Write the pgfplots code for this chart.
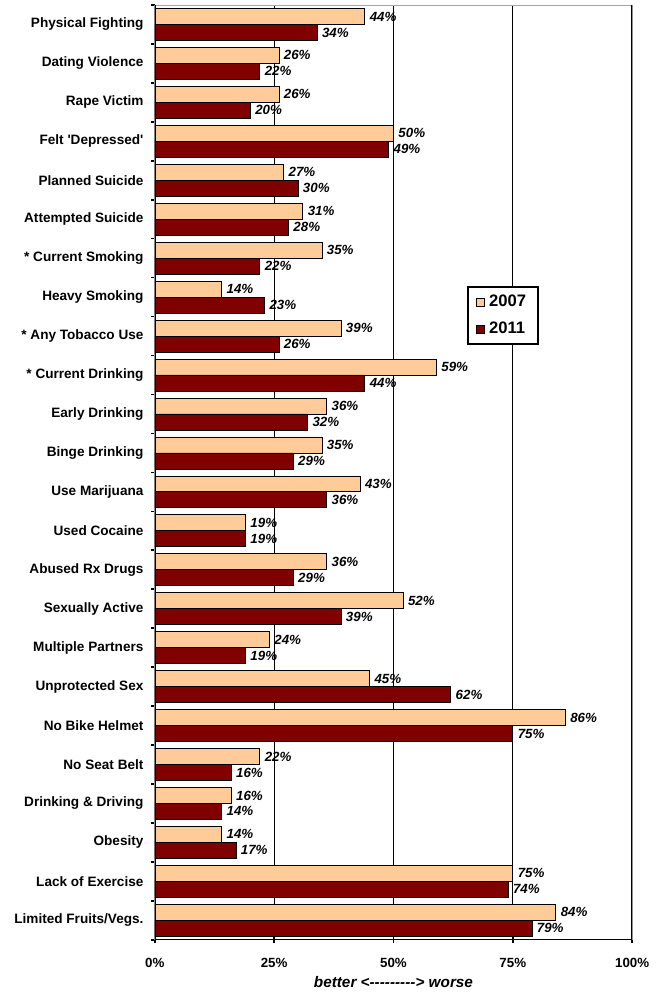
\documentclass[border=0pt]{standalone}
\usepackage{pgfplots}
\pgfplotsset{compat=1.18}
\usepackage{pgfplotstable}
\usepackage{fontspec}
\setmainfont{Liberation Sans}
\definecolor{c07}{HTML}{FFCC99}
\definecolor{c11}{HTML}{800000}
\pgfplotstableread{
y v07 v11
23 44 34
22 26 22
21 26 20
20 50 49
19 27 30
18 31 28
17 35 22
16 14 23
15 39 26
14 59 44
13 36 32
12 35 29
11 43 36
10 19 19
9 36 29
8 52 39
7 24 19
6 45 62
5 86 75
4 22 16
3 16 14
2 14 17
1 75 74
0 84 79
}\data
\begin{document}
\begin{tikzpicture}
\path (-116.25pt,-38.25pt) rectangle (382.5pt,705.75pt);
\begin{axis}[
 at={(0,0)}, anchor=south west, scale only axis,
 width=358.5pt, height=702pt,
 xbar, bar width=12pt,
 xmin=0, xmax=100, ymin=-0.5, ymax=23.5,
 /pgf/number format/assume math mode=true,
 xtick={0,25,50,75,100}, xticklabels={0\%,25\%,50\%,75\%,100\%},
 xmajorgrids, grid style={black, line width=0.5pt},
 ytick={0,...,23},
 yticklabels={Limited Fruits/Vegs., Lack of Exercise, Obesity, Drinking \& Driving, No Seat Belt, No Bike Helmet, Unprotected Sex, Multiple Partners, Sexually Active, Abused Rx Drugs, Used Cocaine, Use Marijuana, Binge Drinking, Early Drinking, * Current Drinking, * Any Tobacco Use, Heavy Smoking, * Current Smoking, Attempted Suicide, Planned Suicide, Felt \textquotesingle Depressed\textquotesingle, Rape Victim, Dating Violence, Physical Fighting},
 minor ytick={-0.5,0.5,...,23.5},
 tick pos=left,
 tick align=outside,
 major tick length=5pt, minor tick length=3pt,
 every major y tick/.append style={draw=none},
 every minor y tick/.append style={black, line width=1.2pt},
 every major x tick/.append style={black, line width=1.2pt, yshift=2.5pt},
 axis line style={gray!70, line width=0.5pt},
 yticklabel style={font=\bfseries\fontsize{10.2}{12}\selectfont},
 xticklabel style={font=\bfseries\fontsize{10}{12}\selectfont, yshift=-5pt},
 xlabel={\bfseries\itshape better <-{}-{}-{}-{}-{}-{}-{}-{}-{}> worse},
 xlabel style={font=\fontsize{11.5}{13}\selectfont, yshift=0pt},
 nodes near coords={\pgfmathprintnumber{\pgfplotspointmeta}\%},
 nodes near coords style={font=\bfseries\itshape\fontsize{10}{12}\selectfont, anchor=west, inner sep=3.5pt, black},
 legend style={at={(rel axis cs:0.655,0.699)}, anchor=north west, draw=black, line width=1.5pt, fill=white,
   font=\bfseries\fontsize{12.5}{14}\selectfont, row sep=6pt, inner xsep=6pt, inner ysep=4pt,
   nodes={inner xsep=3pt}},
 legend cell align=left,
 legend image code/.code={\draw[#1, line width=0.5pt] (0pt,-3pt) rectangle (6pt,3pt);},
]
\addplot[fill=c07, draw=black, line width=0.5pt, bar shift=6pt] table[x=v07,y=y]{\data};
\addplot[fill=c11, draw=black, line width=0.5pt, bar shift=-6pt] table[x=v11,y=y]{\data};
\legend{2007,2011}
\draw[black, line width=1.5pt] (rel axis cs:0,0) -- (rel axis cs:0,1);
\draw[black, line width=1.5pt] (rel axis cs:0,0) -- (rel axis cs:1,0);
\draw[black, line width=1pt] (rel axis cs:1,0) -- (rel axis cs:1,1);
\end{axis}
\end{tikzpicture}
\end{document}
